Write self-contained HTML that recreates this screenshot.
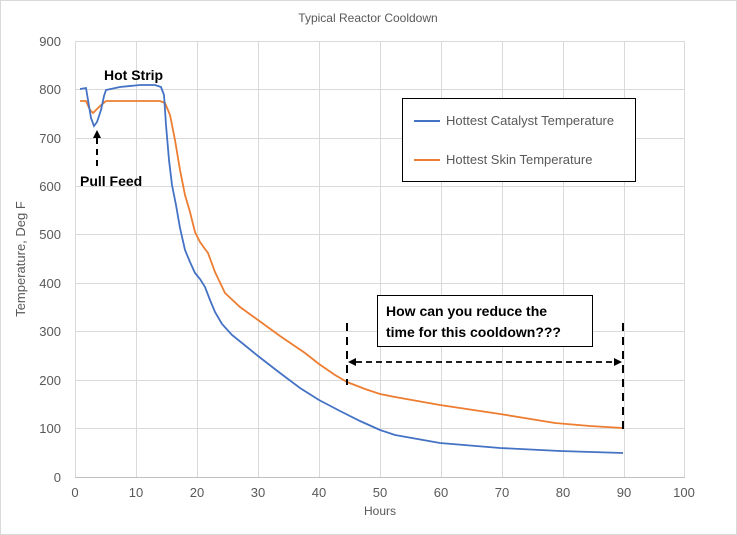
<!DOCTYPE html>
<html><head><style>
body{margin:0;background:#fff}
svg{display:block;font-family:"Liberation Sans",sans-serif}
</style></head><body>
<svg width="737" height="535" viewBox="0 0 737 535">
<rect x="0.5" y="0.5" width="736" height="534" fill="#fff" stroke="#d9d9d9"/>
<text x="368" y="22" font-size="12" fill="#595959" text-anchor="middle">Typical Reactor Cooldown</text>
<g stroke="#d9d9d9" stroke-width="1">
<line x1="75" y1="41.5" x2="685" y2="41.5"/><line x1="75" y1="89.5" x2="685" y2="89.5"/><line x1="75" y1="138.5" x2="685" y2="138.5"/><line x1="75" y1="186.5" x2="685" y2="186.5"/><line x1="75" y1="234.5" x2="685" y2="234.5"/><line x1="75" y1="283.5" x2="685" y2="283.5"/><line x1="75" y1="331.5" x2="685" y2="331.5"/><line x1="75" y1="380.5" x2="685" y2="380.5"/><line x1="75" y1="428.5" x2="685" y2="428.5"/>
<line x1="75.5" y1="41" x2="75.5" y2="477"/><line x1="136.5" y1="41" x2="136.5" y2="477"/><line x1="197.5" y1="41" x2="197.5" y2="477"/><line x1="258.5" y1="41" x2="258.5" y2="477"/><line x1="319.5" y1="41" x2="319.5" y2="477"/><line x1="380.5" y1="41" x2="380.5" y2="477"/><line x1="441.5" y1="41" x2="441.5" y2="477"/><line x1="502.5" y1="41" x2="502.5" y2="477"/><line x1="563.5" y1="41" x2="563.5" y2="477"/><line x1="624.5" y1="41" x2="624.5" y2="477"/><line x1="684.5" y1="41" x2="684.5" y2="477"/>
</g>
<line x1="75" y1="477.5" x2="685" y2="477.5" stroke="#bfbfbf"/>
<g font-size="13" fill="#595959" text-anchor="end">
<text x="61" y="46">900</text><text x="61" y="94">800</text><text x="61" y="143">700</text><text x="61" y="191">600</text><text x="61" y="239">500</text><text x="61" y="288">400</text><text x="61" y="336">300</text><text x="61" y="385">200</text><text x="61" y="433">100</text><text x="61" y="482">0</text>
</g>
<g font-size="13" fill="#595959" text-anchor="middle">
<text x="75" y="497">0</text><text x="136" y="497">10</text><text x="197" y="497">20</text><text x="258" y="497">30</text><text x="319" y="497">40</text><text x="380" y="497">50</text><text x="441" y="497">60</text><text x="502" y="497">70</text><text x="563" y="497">80</text><text x="624" y="497">90</text><text x="684" y="497">100</text>
</g>
<text x="380" y="515" font-size="12" fill="#595959" text-anchor="middle">Hours</text>
<text transform="translate(25,259) rotate(-90)" font-size="13" fill="#595959" text-anchor="middle">Temperature, Deg F</text>
<polyline fill="none" stroke="#ed7d31" stroke-width="1.8" points="80,101 86,101 90,110 93,113 100,106 106,101 130,101 160,101 165,103 170,115 175,140 180,170 185,195 190,212 195,232 200,242 205,249 208,253 215,272 225,293 240,307 258,320 280,336 305,353 319,364 335,375 347,382 365,389 380,394 395,397 440,405 500,414 555,423 590,426 623,428"/>
<polyline fill="none" stroke="#4472c4" stroke-width="1.8" points="80,89 86,88 88,100 91,118 94,126 97,122 101,110 104,96 106,90 120,87 140,85 155,85 161,87 164,95 166,125 169,160 172,185 176,205 180,228 185,250 190,262 195,273 200,279 205,287 210,300 215,312 222,324 232,335 242,343 258,356 280,373 300,388 319,400 340,411 360,421 380,430 395,435 440,443 500,448 560,451 623,453"/>
<rect x="402.5" y="98.5" width="233" height="83" fill="#fff" stroke="#000"/>
<line x1="414" y1="121" x2="440" y2="121" stroke="#4472c4" stroke-width="2"/>
<text x="446" y="125" font-size="13" fill="#595959">Hottest Catalyst Temperature</text>
<line x1="414" y1="160" x2="440" y2="160" stroke="#ed7d31" stroke-width="2"/>
<text x="446" y="164" font-size="13" fill="#595959">Hottest Skin Temperature</text>
<text x="104" y="80" font-size="14" font-weight="bold" fill="#000">Hot Strip</text>
<text x="80" y="186" font-size="14" font-weight="bold" fill="#000">Pull Feed</text>
<line x1="97" y1="166" x2="97" y2="138" stroke="#000" stroke-width="2" stroke-dasharray="6,5"/>
<polygon points="97,130 93,138 101,138" fill="#000"/>
<rect x="377.5" y="295.5" width="215" height="51" fill="#fff" stroke="#000"/>
<text x="386" y="316" font-size="14" font-weight="bold" fill="#000">How can you reduce the</text>
<text x="386" y="337" font-size="14" font-weight="bold" fill="#000">time for this cooldown???</text>
<line x1="347" y1="323" x2="347" y2="385" stroke="#000" stroke-width="2" stroke-dasharray="8,6"/>
<line x1="623" y1="323" x2="623" y2="433" stroke="#000" stroke-width="2" stroke-dasharray="8,6"/>
<line x1="356" y1="362" x2="614" y2="362" stroke="#000" stroke-width="1.8" stroke-dasharray="6,4"/>
<polygon points="348,362 356,358 356,366" fill="#000"/>
<polygon points="622,362 614,358 614,366" fill="#000"/>
</svg>
</body></html>
